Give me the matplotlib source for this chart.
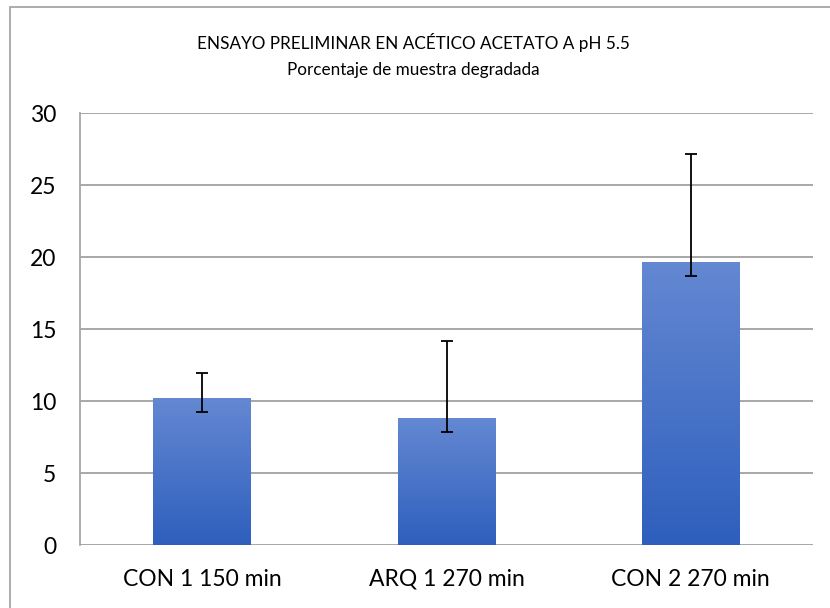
import numpy as np
import matplotlib
matplotlib.use("Agg")
import matplotlib.pyplot as plt
from matplotlib.patches import Rectangle
from matplotlib.colors import LinearSegmentedColormap

categorias = ["CON 1 150 min", "ARQ 1 270 min", "CON 2 270 min"]
porcentaje = [10.2, 8.8, 19.65]
error_inf = [0.96, 0.96, 0.97]
error_sup = [1.76, 5.37, 7.5]

plt.rcParams['font.family'] = ['Lato', 'DejaVu Sans']

fig = plt.figure(figsize=(8.3, 6.08), dpi=100)
W, H = 830, 608
ax = fig.add_axes([80 / W, (H - 545) / H, (813 - 80) / W, (545 - 113) / H])

# marco exterior del grafico
fig.patches.append(Rectangle((10 / W, -0.1), 1.2, (H - 7) / H + 0.1,
                             transform=fig.transFigure, fill=False,
                             edgecolor='#a6a6a6', linewidth=1.3))

x = np.arange(len(categorias))
ancho = 0.4
barras = ax.bar(x, porcentaje, width=ancho, color='none', zorder=2)

grad = LinearSegmentedColormap.from_list('azul', ['#2e5fbd', '#6488d2'])
for b in barras:
    x0, y0 = b.get_x(), b.get_y()
    w, h = b.get_width(), b.get_height()
    img = ax.imshow(np.linspace(0, 1, 256).reshape(-1, 1), cmap=grad,
                    extent=[x0, x0 + w, y0, y0 + h], origin='lower',
                    aspect='auto', zorder=2)
    img.set_clip_path(b)

ax.errorbar(x, porcentaje, yerr=[error_inf, error_sup], fmt='none',
            ecolor='black', elinewidth=1.3, capsize=4.3, capthick=1.3, zorder=3)

ax.set_xlim(-0.5, 2.5)
ax.set_ylim(0, 30)
ax.set_yticks(range(0, 31, 5))
ax.set_xticks(x)
ax.set_xticklabels(categorias)
ax.yaxis.grid(True, color='#a0a0a0', linewidth=1.3, zorder=0)
ax.set_axisbelow(True)
for s in ['top', 'right', 'bottom']:
    ax.spines[s].set_visible(False)
ax.spines['left'].set_color('#a6a6a6')
ax.spines['left'].set_linewidth(1.3)
ax.tick_params(length=0, labelsize=16.5, colors='black')
ax.tick_params(axis='y', pad=17)
ax.tick_params(axis='x', pad=17)

fig.text(0.498, (H - 42) / H, 'ENSAYO PRELIMINAR EN ACÉTICO ACETATO A pH 5.5',
         ha='center', va='center', fontsize=12.3)
fig.text(0.498, (H - 70) / H, 'Porcentaje de muestra degradada',
         ha='center', va='center', fontsize=12.3)

fig.savefig('out.png', dpi=100)
